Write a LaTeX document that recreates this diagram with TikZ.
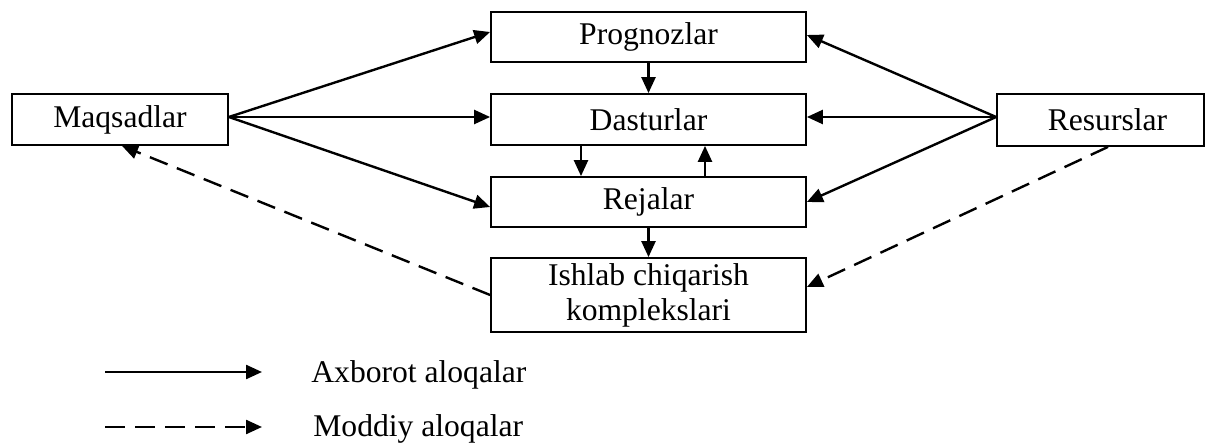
\documentclass[tikz,border=0pt]{standalone}
\usepackage{fontspec}
\setmainfont{Liberation Serif}
\usetikzlibrary{arrows.meta,calc}
\tikzset{
  box/.style={draw, line width=0.9pt, inner sep=0pt, font=\fontsize{15.8}{17.5}\selectfont, align=center},
  lbl/.style={inner sep=0pt, font=\fontsize{15.8}{17.5}\selectfont},
  conn/.style={line width=1.2pt, -{Triangle[length=8pt,width=7pt]}},
  mat/.style={conn, dash pattern=on 9.5pt off 5pt}
}
\begin{document}
\begin{tikzpicture}[x=0.5pt,y=-0.5pt]
\useasboundingbox (0,0) rectangle (1205,443);
\node[box, minimum width=108pt, minimum height=25.5pt] (M) at (120,119.5) {Maqsadlar};
\node[box, minimum width=157.5pt, minimum height=25pt] (P) at (648.5,37) {Prognozlar};
\node[box, minimum width=157.5pt, minimum height=25.5pt] (D) at (648.5,119.5) {Dasturlar};
\node[box, minimum width=157.5pt, minimum height=25pt] (R) at (648.5,202) {Rejalar};
\node[box, minimum width=157.5pt, minimum height=37pt] (I) at (648.5,295) {Ishlab chiqarish\\komplekslari};
\node[box, minimum width=103.5pt, minimum height=26pt] (S) at (1100.5,120) {\hspace*{7pt}Resurslar};

% from Maqsadlar
\draw[conn] ($(M.east)+(0,-2.5)$) -- ($(P.west)+(0,-5)$);
\draw[conn] ($(M.east)+(0,-2.5)$) -- ($(D.west)+(0,-2.5)$);
\draw[conn] ($(M.east)+(0,-2.5)$) -- ($(R.west)+(0,5)$);
% from Resurslar
\draw[conn] ($(S.west)+(0,-3)$) -- ($(P.east)+(0,-2)$);
\draw[conn] ($(S.west)+(0,-3)$) -- ($(D.east)+(0,-2.5)$);
\draw[conn] ($(S.west)+(0,-3)$) -- ($(R.east)+(0,0)$);
% vertical
\draw[conn] (P.south) -- (D.north);
\draw[conn] ($(D.south)+(-67.5,0)$) -- ($(R.north)+(-67.5,0)$);
\draw[conn] ($(R.north)+(56.5,0)$) -- ($(D.south)+(56.5,0)$);
\draw[conn] (R.south) -- (I.north);
% dashed
\draw[mat] ($(S.south)+(7.5,0)$) -- ($(I.east)+(0,-8)$);
\draw[mat] (I.west) -- ($(M.south)+(2,0)$);

% legend
\coordinate (la) at (105,372);
\coordinate (lb) at (262,372);
\coordinate (lc) at (105,427);
\coordinate (ld) at (262,427);
\draw[conn] (la) -- (lb);
\draw[mat, dash pattern=on 10pt off 5pt] (lc) -- (ld);
\node[lbl, anchor=base west] (t1) at (311,382) {Axborot aloqalar};
\node[lbl, anchor=base west] (t2) at (313,437) {Moddiy aloqalar};
\end{tikzpicture}
\end{document}
